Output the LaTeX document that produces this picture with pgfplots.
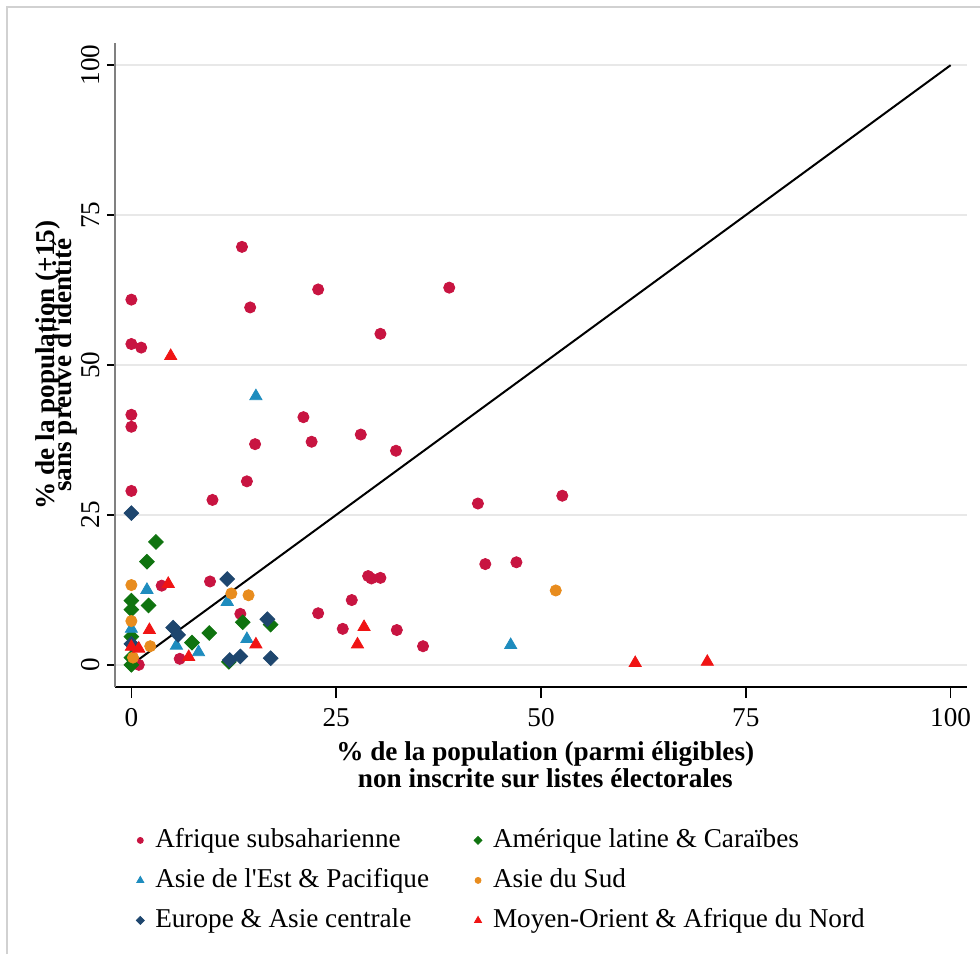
\documentclass[border=0pt]{standalone}
\usepackage{fontspec}
\setmainfont{Liberation Serif}
\usepackage{pgfplots}
\pgfplotsset{compat=1.18}
\definecolor{afr}{RGB}{200,20,65}
\definecolor{lat}{RGB}{15,115,15}
\definecolor{eap}{RGB}{30,140,190}
\definecolor{sas}{RGB}{232,140,30}
\definecolor{eca}{RGB}{30,70,110}
\definecolor{mena}{RGB}{240,20,20}
\begin{document}
\begin{tikzpicture}
\begin{axis}[
 at={(0,0)}, anchor=south west,
 scale only axis, width=426pt, height=322pt,
 xmin=-2, xmax=102, ymin=-3.7, ymax=103.7,
 axis x line*=bottom, axis y line*=left,
 x axis line style={-, black, line width=1.4pt},
 y axis line style={-, black!50, line width=0.8pt},
 xtick={0,25,50,75,100}, ytick={0,25,50,75,100},
 tick align=outside,
 xtick style={black, line width=0.7pt, /pgfplots/major tick length=5.5pt},
 ytick style={black, line width=0.7pt, /pgfplots/major tick length=4pt},
 ymajorgrids, major grid style={black!9, line width=0.9pt},
 /pgf/number format/assume math mode=true,
 tick label style={font=\fontsize{13.6}{16}\selectfont},
 xticklabel style={yshift=-3pt},
 yticklabel style={rotate=90, anchor=south},
 xlabel={\% de la population (parmi éligibles)\\non inscrite sur listes électorales},
 ylabel={\% de la population (+15)\\[-5pt]sans preuve d\textquotesingle identité},
 every axis x label/.style={at={(axis description cs:0.505,-0.1203)}, anchor=center, align=center, font=\bfseries\fontsize{13.6}{13.5}\selectfont},
 every axis y label/.style={at={(axis description cs:-0.0687,0.5)}, rotate=90, anchor=center, align=center, font=\bfseries\fontsize{13.6}{13.5}\selectfont},
 legend columns=2,
 legend cell align=left,
 legend style={draw=none, fill=none, inner sep=0pt, at={(0.0246,-0.2174)}, anchor=north west,
   font=\fontsize{13.6}{16}\selectfont,
   nodes={inner sep=0pt, text height=10pt, text depth=3pt},
   row sep=7pt,
   /tikz/every odd column/.append style={column sep=5.5pt},
   /tikz/every even column/.append style={column sep=22.5pt}},
]
% Afrique subsaharienne
\addplot[only marks, mark=*, mark size=2.8pt, color=afr, mark options={draw=afr, fill=afr}, legend image post style={mark size=1.5pt}] coordinates {
(13.5,69.7) (0,60.9) (14.5,59.6) (22.8,62.6) (38.8,62.9) (30.4,55.2) (0,53.5) (1.2,52.9)
(0,41.7) (0,39.7) (21.0,41.3) (15.1,36.8) (22.0,37.2) (28.0,38.4) (32.3,35.7)
(0,29.0) (14.1,30.6) (9.9,27.5) (42.3,26.9) (52.6,28.2) (43.2,16.8) (47.0,17.1)
(28.9,14.8) (29.3,14.4) (30.4,14.5) (26.9,10.8) (22.8,8.6) (25.8,6.0) (32.4,5.8) (35.6,3.1)
(3.7,13.2) (9.6,13.9) (13.3,8.5) (5.9,1.0) (0.9,0.0)
};
\addlegendentry{Afrique subsaharienne}
% Amerique latine
\addplot[only marks, mark=square*, mark size=2.6pt, color=lat, mark options={rotate=45, draw=lat, fill=lat}, legend image post style={mark size=1.4pt}] coordinates {
(3.0,20.5) (1.9,17.2) (0,10.7) (0,9.2) (2.1,9.9) (0,4.7) (0,1.2) (0,0)
(13.6,7.1) (17.0,6.7) (9.5,5.3) (7.4,3.7) (11.9,0.5)
};
\addlegendentry{Amérique latine \& Caraïbes}
% Asie de l'Est
\addplot[only marks, mark=triangle*, mark size=3.5pt, color=eap, mark options={draw=eap, fill=eap}, legend image post style={mark size=2pt}] coordinates {
(15.2,44.8) (1.9,12.5) (11.7,10.5) (0,6.0) (5.5,3.2) (8.2,2.1) (14.1,4.3) (46.3,3.3)
};
\addlegendentry{Asie de l\textquotesingle Est \& Pacifique}
% Asie du Sud
\addplot[only marks, mark=*, mark size=2.8pt, color=sas, mark options={draw=sas, fill=sas}, legend image post style={mark size=1.5pt}] coordinates {
(0,13.3) (0,7.3) (12.2,11.9) (14.3,11.6) (2.3,3.1) (0.2,1.2) (51.8,12.4)
};
\addlegendentry{Asie du Sud}
% Europe
\addplot[only marks, mark=square*, mark size=2.6pt, color=eca, mark options={rotate=45, draw=eca, fill=eca}, legend image post style={mark size=1.4pt}] coordinates {
(0,25.3) (11.7,14.3) (16.6,7.6) (5.1,6.2) (5.7,5.0) (12.0,0.8) (13.3,1.4) (17.0,1.1) (0,3.5)
};
\addlegendentry{Europe \& Asie centrale}
% MENA
\addplot[only marks, mark=triangle*, mark size=3.5pt, color=mena, mark options={draw=mena, fill=mena}, legend image post style={mark size=2pt}] coordinates {
(4.8,51.5) (4.5,13.5) (2.2,5.8) (0,3.0) (0.9,2.7) (7.0,1.3) (15.2,3.4) (28.4,6.3) (27.6,3.4) (61.5,0.3) (70.3,0.5)
};
\addlegendentry{Moyen-Orient \& Afrique du Nord}
\addplot[black, line width=1pt, forget plot] coordinates {(0,0) (100,100)};
\end{axis}
\draw[black!18, line width=0.6pt] (-54pt,-133.5pt) -- (-54pt,340pt) -- (432.5pt,340pt);
\pgfresetboundingbox
\path[use as bounding box] (-57.5pt,-133.5pt) rectangle (432.5pt,343.5pt);
\end{tikzpicture}
\end{document}
